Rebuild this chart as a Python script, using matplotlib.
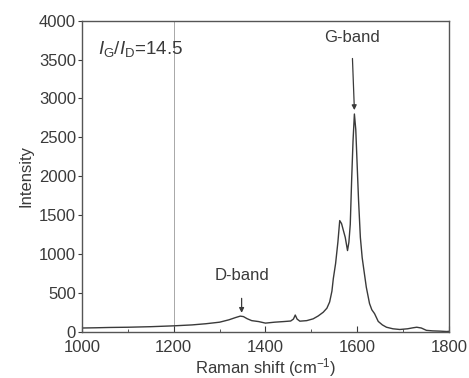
import numpy as np
import matplotlib.pyplot as plt
from matplotlib.ticker import MultipleLocator

plt.rcParams['font.family'] = ['Liberation Sans', 'DejaVu Sans']
plt.rcParams['mathtext.fontset'] = 'custom'
plt.rcParams['mathtext.rm'] = 'Liberation Sans'
plt.rcParams['mathtext.it'] = 'Liberation Sans:italic'

# Raman spectrum (shift in cm^-1, intensity in counts)
shift = [1000, 1030, 1060, 1100, 1150, 1200, 1240, 1270, 1300, 1320, 1335,
         1345, 1352, 1360, 1370, 1385, 1400, 1420, 1440, 1455, 1461, 1465,
         1469, 1475, 1490, 1504, 1515, 1526, 1534, 1540, 1545, 1548, 1553,
         1558, 1562, 1566, 1570, 1574, 1579, 1582, 1585, 1588, 1591, 1594,
         1597, 1600, 1603, 1607, 1611, 1615, 1620, 1627, 1632, 1638, 1646,
         1655, 1664, 1678, 1693, 1710, 1722, 1730, 1740, 1751, 1765, 1780,
         1795, 1800]
intensity = [45, 48, 52, 55, 62, 73, 85, 100, 120, 150, 180,
             198, 192, 165, 140, 128, 108, 120, 128, 135, 160, 212,
             160, 133, 140, 163, 200, 248, 300, 380, 520, 680, 875,
             1150, 1428, 1389, 1300, 1213, 1042, 1150, 1380, 1950, 2450, 2800,
             2600, 2150, 1700, 1213, 950, 780, 570, 360, 280, 230, 130,
             85, 55, 35, 26, 35, 48, 55, 45, 15, 8, 5,
             0, 2]

ratio_text = r'$I_{\mathrm{G}}/I_{\mathrm{D}}$=14.5'
g_band = (1594, 2850)
d_band = (1348, 240)
ref_shift = 1200

ink = '#3a3a3a'
fs = 12
fig = plt.figure(figsize=(4.69, 3.78), dpi=100)
ax = fig.add_axes([0.175, 0.123, 0.782, 0.822])

ax.axvline(ref_shift, color='#9a9a9a', lw=0.6, zorder=0)
ax.plot(shift, intensity, color=ink, lw=1.0)

ax.annotate('G-band', xy=g_band, xytext=(g_band[0] - 6, 3790),
            ha='center', va='center', fontsize=fs, color=ink,
            arrowprops=dict(arrowstyle='-|>', color=ink, lw=0.9,
                            mutation_scale=7, shrinkA=8, shrinkB=0))
ax.annotate('D-band', xy=d_band, xytext=(d_band[0], 720),
            ha='center', va='center', fontsize=fs, color=ink,
            arrowprops=dict(arrowstyle='-|>', color=ink, lw=0.9,
                            mutation_scale=7, shrinkA=9, shrinkB=0))
ax.text(1035, 3640, ratio_text, fontsize=13.5, color=ink, va='center',
        ha='left')

ax.set_xlim(1000, 1800)
ax.set_ylim(0, 4000)
ax.xaxis.set_major_locator(MultipleLocator(200))
ax.xaxis.set_minor_locator(MultipleLocator(100))
ax.yaxis.set_major_locator(MultipleLocator(500))
ax.tick_params(axis='x', which='both', direction='in', top=False,
               labelsize=fs, colors=ink, pad=6)
ax.tick_params(axis='x', which='major', length=4)
ax.tick_params(axis='x', which='minor', length=2.5)
ax.tick_params(axis='y', direction='out', length=3, labelsize=fs,
               colors=ink, pad=1.5)
for s in ax.spines.values():
    s.set_color('#555555')
    s.set_linewidth(1.0)

ax.set_xlabel('Raman shift (cm$^{-1}$)', fontsize=fs, color=ink, labelpad=1)
ax.set_ylabel('Intensity', fontsize=fs, color=ink, labelpad=4)

fig.savefig('out.png', dpi=100)
